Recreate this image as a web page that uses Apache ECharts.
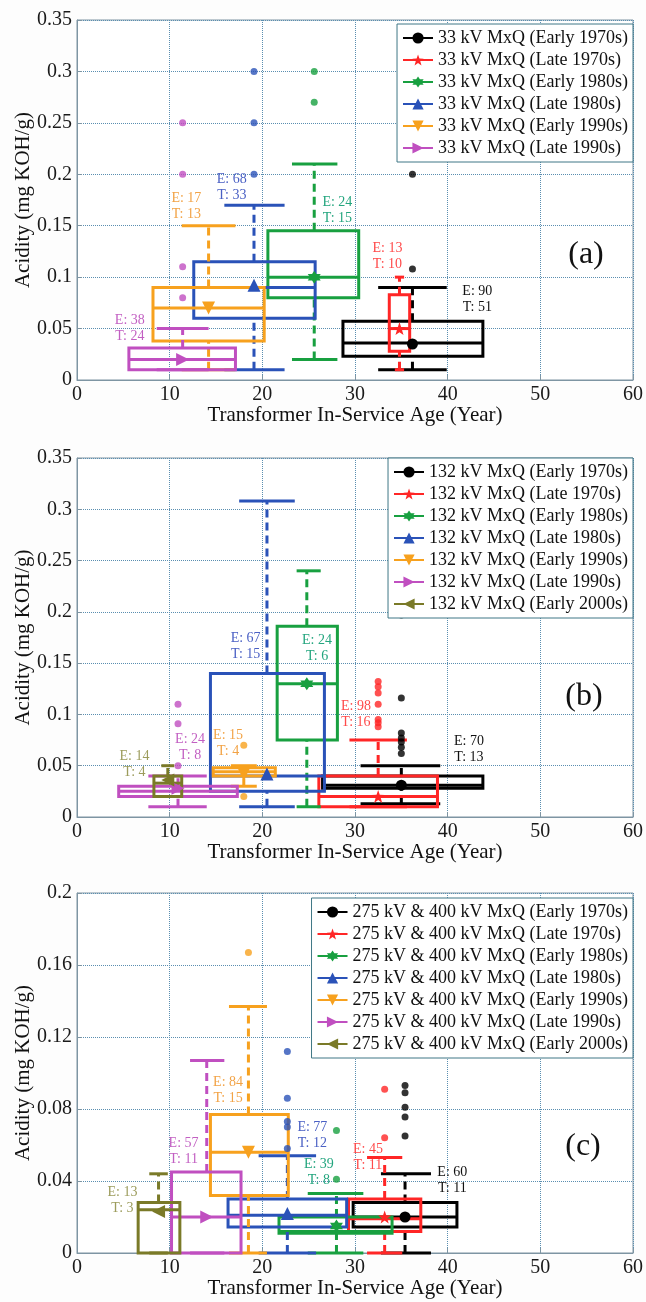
<!DOCTYPE html>
<html>
<head>
<meta charset="utf-8">
<script src="https://cdn.jsdelivr.net/npm/echarts@6/dist/echarts.min.js"></script>
<style>
  html, body { margin: 0; padding: 0; background: #fff; }
  #chart { width: 646px; height: 1302px; }
</style>
</head>
<body>
<div id="chart"></div>
<script>
///////////////////////
// axis ticks
///////////////////////
const ageTicks = [0, 10, 20, 30, 40, 50, 60];
const acidTicksAB = [0, 0.05, 0.1, 0.15, 0.2, 0.25, 0.3, 0.35];
const acidTicksC = [0, 0.04, 0.08, 0.12, 0.16, 0.2];

///////////////////////
// (a) 33 kV
///////////////////////
const namesA = [
    '33 kV MxQ (Early 1970s)', '33 kV MxQ (Late 1970s)', '33 kV MxQ (Early 1980s)',
    '33 kV MxQ (Late 1980s)', '33 kV MxQ (Early 1990s)', '33 kV MxQ (Late 1990s)'
];
// age in years: box left, cap left, mean age, cap right, box right
const ageA = [
    [28.7, 32.5, 36.2, 39.9, 43.8],
    [33.7, 34.3, 34.8, 35.3, 35.9],
    [20.6, 23.2, 25.6, 28.1, 30.4],
    [12.6, 15.9, 19.1, 22.4, 25.7],
    [8.2, 11.3, 14.2, 17.1, 20.2],
    [5.6, 8.6, 11.4, 14.2, 17.1]
];
// acidity: lower whisker, q1, median, q3, upper whisker
const acidA = [
    [0.01, 0.023, 0.036, 0.057, 0.09],
    [0.01, 0.028, 0.05, 0.083, 0.1],
    [0.02, 0.08, 0.1, 0.145, 0.21],
    [0.01, 0.06, 0.09, 0.115, 0.17],
    [0.01, 0.038, 0.07, 0.09, 0.15],
    [0.01, 0.01, 0.02, 0.031, 0.05]
];
const meanA = [0.035, 0.05, 0.1, 0.092, 0.07, 0.02];
const outA = [[0.108, 0.2], [], [0.27, 0.3], [0.2, 0.25, 0.3], [], [0.08, 0.11, 0.2, 0.25]];
const countA = [[90, 51], [13, 10], [24, 15], [68, 33], [17, 13], [38, 24]];  // E, T
const labelAtA = [[43.2, 0.078], [33.5, 0.12], [28.1, 0.165], [16.7, 0.187], [11.8, 0.169], [5.7, 0.05]];

///////////////////////
// (b) 132 kV
///////////////////////
const namesB = [
    '132 kV MxQ (Early 1970s)', '132 kV MxQ (Late 1970s)', '132 kV MxQ (Early 1980s)',
    '132 kV MxQ (Late 1980s)', '132 kV MxQ (Early 1990s)', '132 kV MxQ (Late 1990s)',
    '132 kV MxQ (Early 2000s)'
];
const ageB = [
    [26.5, 30.6, 35.0, 39.2, 43.8],
    [26.1, 29.4, 32.5, 35.6, 38.9],
    [21.6, 23.7, 24.8, 26.3, 28.1],
    [14.4, 17.5, 20.5, 23.5, 26.7],
    [14.7, 16.6, 18.0, 19.4, 21.4],
    [4.5, 7.7, 10.9, 14.0, 17.3],
    [8.3, 9.1, 9.8, 10.5, 11.3]
];
const acidB = [
    [0.013, 0.028, 0.031, 0.04, 0.05],
    [0.01, 0.01, 0.02, 0.04, 0.075],
    [0.01, 0.075, 0.13, 0.186, 0.24],
    [0.01, 0.025, 0.04, 0.14, 0.308],
    [0.03, 0.04, 0.044, 0.048, 0.05],
    [0.01, 0.02, 0.025, 0.03, 0.04],
    [0.02, 0.02, 0.033, 0.04, 0.05]
];
const meanB = [0.031, 0.02, 0.13, 0.042, 0.042, 0.028, 0.036];
const outB = [
    [0.062, 0.068, 0.073, 0.077, 0.082, 0.116, 0.197],
    [0.088, 0.092, 0.095, 0.11, 0.121, 0.127, 0.132],
    [], [], [0.02, 0.07], [0.05, 0.091, 0.11], []
];
const countB = [[70, 13], [98, 16], [24, 6], [67, 15], [15, 4], [24, 8], [14, 4]];
const labelAtB = [[42.3, 0.066], [30.1, 0.1], [25.9, 0.164], [18.2, 0.166], [16.3, 0.072], [12.2, 0.0675], [6.2, 0.051]];

///////////////////////
// (c) 275 kV & 400 kV
///////////////////////
const namesC = [
    '275 kV & 400 kV MxQ (Early 1970s)', '275 kV & 400 kV MxQ (Late 1970s)',
    '275 kV & 400 kV MxQ (Early 1980s)', '275 kV & 400 kV MxQ (Late 1980s)',
    '275 kV & 400 kV MxQ (Early 1990s)', '275 kV & 400 kV MxQ (Late 1990s)',
    '275 kV & 400 kV MxQ (Early 2000s)'
];
const ageC = [
    [29.8, 32.8, 35.4, 38.2, 41.0],
    [29.3, 31.3, 33.2, 35.1, 37.1],
    [21.8, 24.9, 28.0, 30.9, 34.0],
    [16.3, 19.6, 22.7, 25.8, 29.1],
    [14.4, 16.4, 18.5, 20.5, 22.8],
    [10.2, 12.2, 14.0, 15.9, 17.7],
    [6.6, 7.8, 8.8, 9.8, 11.1]
];
const acidC = [
    [0, 0.0145, 0.02, 0.028, 0.044],
    [0, 0.012, 0.019, 0.03, 0.053],
    [0, 0.011, 0.012, 0.02, 0.033],
    [0, 0.0145, 0.021, 0.03, 0.054],
    [0, 0.032, 0.056, 0.077, 0.137],
    [0, 0, 0.02, 0.045, 0.107],
    [0, 0, 0.024, 0.028, 0.044]
];
const meanC = [0.02, 0.02, 0.015, 0.022, 0.056, 0.02, 0.023];
const outC = [
    [0.065, 0.0756, 0.081, 0.089, 0.093],
    [0.064, 0.091],
    [0.041, 0.068],
    [0.058, 0.07, 0.073, 0.086, 0.112],
    [0.167], [], []
];
const countC = [[60, 11], [45, 11], [39, 8], [77, 12], [84, 15], [57, 11], [13, 3]];
const labelAtC = [[40.5, 0.0406], [31.4, 0.0533], [26.1, 0.045], [25.4, 0.0656], [16.3, 0.0906], [11.5, 0.0567], [4.9, 0.029]];

///////////////////////
// styles (by decade)
///////////////////////
const lineColors = ['#000000', '#ff2626', '#18a040', '#2a52b8', '#f7a11e', '#c04fc0', '#7a7a28'];
const textColors = ['#111111', '#ff4a4a', '#23a57e', '#4a60c4', '#f2a346', '#c25fc2', '#9c9c5c'];
const markers = [
    'circle',
    'path://M0,-10L2.35,-3.24L9.51,-3.09L3.8,1.24L5.88,8.09L0,4L-5.88,8.09L-3.8,1.24L-9.51,-3.09L-2.35,-3.24Z',
    'path://M0,-10L2.9,-5L8.66,-5L5.8,0L8.66,5L2.9,5L0,10L-2.9,5L-8.66,5L-5.8,0L-8.66,-5L-2.9,-5Z',
    'path://M0,-9L10,8L-10,8Z',
    'path://M-10,-8L10,-8L0,9Z',
    'path://M-8,-10L9,0L-8,10Z',
    'path://M8,-10L-9,0L8,10Z'
];
const markerSize = [11, 13, 13, 13, 13, 13, 13];
const serif = 'Liberation Serif';

function renderBox(params, api) {
    const color = lineColors[params.dataIndex];
    const v = i => api.value(i);
    const p = (x, y) => api.coord([x, y]);
    const solid = { stroke: color, lineWidth: 3, fill: null };
    const dashed = { stroke: color, lineWidth: 3, lineDash: [8, 5], fill: null };
    const seg = (a, b, style) => ({ type: 'line', shape: { x1: a[0], y1: a[1], x2: b[0], y2: b[1] }, style: style });
    const boxL = v(0), capL = v(1), mid = v(2), capR = v(3), boxR = v(4);
    const lo = v(5), q1 = v(6), med = v(7), q3 = v(8), hi = v(9);
    const tl = p(boxL, q3), br = p(boxR, q1);
    return {
        type: 'group',
        children: [
            seg(p(mid, q3), p(mid, hi), dashed),
            seg(p(mid, lo), p(mid, q1), dashed),
            seg(p(capL, hi), p(capR, hi), solid),
            seg(p(capL, lo), p(capR, lo), solid),
            { type: 'rect', shape: { x: tl[0], y: tl[1], width: br[0] - tl[0], height: br[1] - tl[1] }, style: solid },
            seg(p(boxL, med), p(boxR, med), solid)
        ]
    };
}

function renderLabel(params, api) {
    const pos = api.coord([api.value(0), api.value(1)]);
    return {
        type: 'text',
        x: pos[0],
        y: pos[1],
        style: {
            text: 'E: ' + api.value(2) + '\nT: ' + api.value(3),
            fill: textColors[params.dataIndex],
            fontFamily: serif,
            fontSize: 14,
            lineHeight: 16,
            align: 'center',
            verticalAlign: 'middle'
        }
    };
}

function panelSeries(k, names, age, acid, mean, out, count, labelAt) {
    const list = [];
    list.push({
        type: 'custom', name: 'boxes ' + k, xAxisIndex: k, yAxisIndex: k, z: 2,
        renderItem: renderBox,
        encode: { x: [0, 1, 2, 3, 4], y: [5, 6, 7, 8, 9] },
        data: age.map((a, i) => a.concat(acid[i])),
        silent: true
    });
    names.forEach((name, i) => {
        list.push({
            type: 'scatter', name: name + ' outliers', xAxisIndex: k, yAxisIndex: k, z: 3,
            symbol: 'circle', symbolSize: 7,
            itemStyle: { color: lineColors[i] },
            data: out[i].map(o => [age[i][2], o])
        });
        list.push({
            type: 'line', name: name, xAxisIndex: k, yAxisIndex: k, z: 4,
            symbol: markers[i], symbolSize: markerSize[i], showSymbol: true,
            itemStyle: { color: lineColors[i] },
            lineStyle: { color: lineColors[i], width: 1.5 },
            data: [[age[i][2], mean[i]]]
        });
    });
    list.push({
        type: 'custom', name: 'labels ' + k, xAxisIndex: k, yAxisIndex: k, z: 5,
        renderItem: renderLabel,
        encode: { x: 0, y: 1 },
        data: labelAt.map((l, i) => l.concat(count[i])),
        silent: true
    });
    return list;
}

const grids = [
    { left: 77, right: 13, top: 20, height: 360 },
    { left: 77, right: 13, top: 458, height: 359 },
    { left: 77, right: 13, top: 893, height: 360 }
].map(g => Object.assign(g, { show: true, borderColor: '#7e95a3', borderWidth: 1, backgroundColor: '#fff' }));

const gridLine = { show: true, lineStyle: { type: 'dotted', color: '#5a8eb0', width: 1 } };
const axisLine = { show: true, lineStyle: { color: '#7e95a3', width: 1 } };

const xAxes = [0, 1, 2].map(k => ({
    type: 'value', gridIndex: k,
    min: ageTicks[0], max: ageTicks[ageTicks.length - 1], interval: ageTicks[1] - ageTicks[0],
    name: 'Transformer In-Service Age (Year)', nameLocation: 'middle', nameGap: 25,
    nameMoveOverlap: false,
    nameTextStyle: { fontFamily: serif, fontSize: 21, color: '#111' },
    axisLine: axisLine, axisTick: { inside: true, length: 5, lineStyle: { color: '#7e95a3' } },
    axisLabel: { fontFamily: serif, fontSize: 20, color: '#1a1a1a', margin: 5 },
    splitLine: gridLine
}));

const yTickSets = [acidTicksAB, acidTicksAB, acidTicksC];
const yAxes = [0, 1, 2].map(k => {
    const t = yTickSets[k];
    return {
        type: 'value', gridIndex: k,
        min: t[0], max: t[t.length - 1], interval: t[1] - t[0],
        name: 'Acidity (mg KOH/g)', nameLocation: 'middle', nameGap: 43,
        nameMoveOverlap: false,
        nameTextStyle: { fontFamily: serif, fontSize: 21, color: '#111' },
        axisLine: axisLine, axisTick: { inside: true, length: 5, lineStyle: { color: '#7e95a3' } },
        axisLabel: {
            fontFamily: serif, fontSize: 20, color: '#1a1a1a', margin: 5,
            formatter: val => String(+val.toFixed(3))
        },
        splitLine: gridLine
    };
});

const legendBase = {
    orient: 'vertical', right: 13, selectedMode: false,
    backgroundColor: '#fff', borderColor: '#3f7786', borderWidth: 1,
    padding: [4, 5, 4, 5], itemGap: 2, itemWidth: 30, itemHeight: 14,
    textStyle: { fontFamily: serif, fontSize: 18, color: '#111', lineHeight: 20 }
};

const option = {
    backgroundColor: '#fdfdfd',
    animation: false,
    grid: grids,
    xAxis: xAxes,
    yAxis: yAxes,
    legend: [
        Object.assign({}, legendBase, { top: 24, data: namesA }),
        Object.assign({}, legendBase, { top: 458, data: namesB }),
        Object.assign({}, legendBase, { top: 898, data: namesC })
    ],
    graphic: [
        { type: 'text', x: 586, y: 255, style: { text: '(a)', fontFamily: serif, fontSize: 32, fill: '#111', align: 'center', verticalAlign: 'middle' } },
        { type: 'text', x: 584, y: 697, style: { text: '(b)', fontFamily: serif, fontSize: 32, fill: '#111', align: 'center', verticalAlign: 'middle' } },
        { type: 'text', x: 583, y: 1147, style: { text: '(c)', fontFamily: serif, fontSize: 32, fill: '#111', align: 'center', verticalAlign: 'middle' } }
    ],
    series: [].concat(
        panelSeries(0, namesA, ageA, acidA, meanA, outA, countA, labelAtA),
        panelSeries(1, namesB, ageB, acidB, meanB, outB, countB, labelAtB),
        panelSeries(2, namesC, ageC, acidC, meanC, outC, countC, labelAtC)
    )
};

const chart = echarts.init(document.getElementById('chart'));
chart.setOption(option);
</script>
</body>
</html>
